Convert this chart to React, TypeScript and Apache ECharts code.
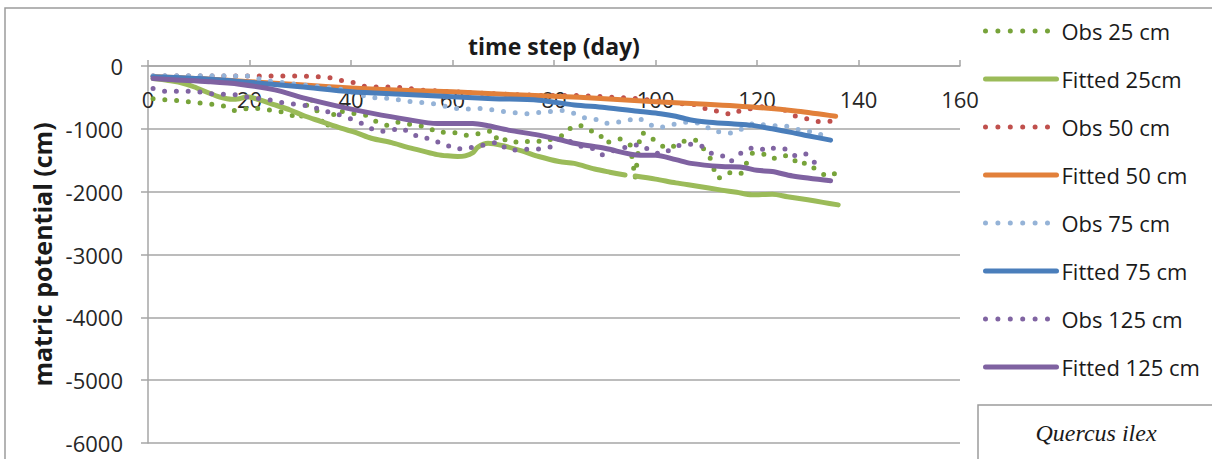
import React, { useEffect, useRef } from "react";
import * as echarts from "echarts";

// ---- data (day, matric potential in cm) ----
const xTicks = [0, 20, 40, 60, 80, 100, 120, 140, 160];

const obs25Days = [1,3,5,8,10,12,15,17,19,21,24,27,30,32,34,35,36,37,39,41,43,45,47,49,51,53,55,57,60,62,64,66,68,69,71,73,76,78,80,82,83,85,87,89,90,93,95,96,97,98,100,102,104,106,108,110,111,112,113,115,117,118,119,121,123,125,127,128,130,132,134,136];
const obs25Vals = [-520,-535,-545,-570,-585,-600,-640,-710,-680,-670,-700,-740,-840,-500,-830,-990,-880,-700,-740,-760,-785,-885,-945,-890,-920,-945,-970,-1060,-1050,-1105,-1095,-1060,-1025,-1210,-1155,-1225,-1185,-1210,-1145,-1100,-1000,-935,-1025,-1080,-1230,-1160,-1250,-1790,-1070,-1070,-1195,-1310,-1270,-1180,-1180,-1365,-1500,-1780,-1780,-1680,-1710,-1535,-1390,-1390,-1480,-1420,-1445,-1575,-1535,-1680,-1760,-1690];

const fit25Days = [1,4,6,9,12,14,16.5,18,19.5,22,25,28,31,34,38,41,44,48,51,54,57,59,61,62.5,64,65,67,70,74,77,81,84,88,91,94,95,96,100,104,108,113,116,119,123,126,130,133,136];
const fit25Vals = [-200,-230,-255,-330,-430,-490,-530,-520,-490,-540,-620,-700,-800,-880,-990,-1060,-1150,-1220,-1290,-1350,-1410,-1430,-1440,-1430,-1380,-1290,-1230,-1270,-1360,-1440,-1520,-1550,-1640,-1690,-1735,null,-1750,-1800,-1860,-1910,-1975,-2010,-2050,-2040,-2080,-2130,-2170,-2210];

const obs50Days = [1,5,10,15,20,25,30,32,34,36,38,40.5,42.5,45,49,51.5,54,60,70,78,84,90,95,100,103.5,108,110.5,113,115,117,121,125,127.5,130,132,134.5];
const obs50Vals = [-160,-160,-160,-160,-160,-160,-160,-165,-175,-190,-230,-265,-320,-335,-335,-360,-385,-410,-450,-470,-470,-490,-510,-550,-590,-615,-700,-730,-775,-700,-650,-680,-795,-845,-885,-880];

const fit50Days = [1,10,20,30,40,50,60,70,80,90,100,110,120,128,135.5];
const fit50Vals = [-170,-200,-250,-300,-350,-385,-410,-450,-480,-520,-570,-610,-660,-720,-800];

const obs75Days = [1,5,10,15,20,23,27,30,34,39,43.5,47.5,52,56,61.5,66,70.5,74.5,79,81.5,83.8,85.7,88,90,92.3,94.3,96.6,98.6,100.6,102.9,105.2,107.5,109.4,111.4,113.4,115.3,117.3,119.3,121.6,123.5,125.5,127.5,129.8,131.6,133.7];
const obs75Vals = [-155,-155,-155,-155,-160,-230,-270,-300,-330,-380,-500,-515,-570,-595,-690,-675,-730,-760,-725,-705,-750,-820,-840,-915,-895,-870,-820,-925,-985,-940,-895,-895,-930,-1040,-1055,-1070,-990,-910,-940,-950,-950,-1005,-1020,-1090,-1090];

const fit75Days = [1,10,20,30,40,50,60,68,77,84,90,97,101,104,107,110,115,119,123,127,130,134.5];
const fit75Vals = [-170,-200,-260,-330,-410,-450,-490,-520,-545,-620,-660,-725,-760,-800,-860,-890,-920,-945,-1000,-1060,-1110,-1180];

const obs125Days = [1,3,6,8,10,12.5,15,17.5,20,24,26.5,28.6,31,33.3,35.2,37.8,39.8,41.8,43.7,45.7,47.7,50.2,52,54.2,56,58.2,60,62.5,64.8,66.8,69,70.7,73,75,77.2,79.2,81.2,83.5,85.5,87.5,89.4,91,93,95.1,97,99,101,103,104.8,106.8,108.8,111,113,114.7,116.3,118.3,120.3,122,123.5,125.5,127.5,129.5,131.4,133.4];
const obs125Vals = [-360,-400,-400,-400,-410,-440,-450,-460,-500,-540,-585,-605,-630,-675,-725,-780,-835,-900,-990,-1045,-1020,-990,-1100,-1115,-1200,-1220,-1310,-1325,-1275,-1250,-1205,-1325,-1340,-1320,-1320,-1290,-1155,-1210,-1285,-1310,-1415,-1365,-1320,-1270,-1245,-1350,-1405,-1330,-1260,-1245,-1255,-1390,-1415,-1530,-1415,-1310,-1300,-1355,-1300,-1320,-1430,-1390,-1540,-1530];

const fit125Days = [1,5,12,18,25,31,38,44,51,57,64,67,71,77,81,84,90,97,100,104,107,113,117,120,123,127,134.5];
const fit125Vals = [-200,-220,-250,-290,-380,-515,-650,-750,-850,-915,-915,-950,-1020,-1100,-1170,-1230,-1310,-1420,-1420,-1490,-1550,-1600,-1610,-1660,-1680,-1750,-1825];

const seriesNames = ["Obs 25 cm", "Fitted 25cm", "Obs 50 cm", "Fitted 50 cm", "Obs 75 cm", "Fitted 75 cm", "Obs 125 cm", "Fitted 125 cm"];
const seriesColors = ["#77a33a", "#9bbb59", "#c0504d", "#e2803a", "#95b3d7", "#4a7ebb", "#8064a2", "#7f62a1"];

const FONT = "'Open Sans', 'Noto Sans', sans-serif";

function pair(days: number[], vals: (number | null)[]) {
  return days.map((d, i) => [d, vals[i] === null ? "-" : vals[i]]);
}

function obsSeries(idx: number, days: number[], vals: (number | null)[]) {
  const color = seriesColors[idx];
  return {
    name: seriesNames[idx],
    type: "line",
    data: pair(days, vals),
    symbol: "none",
    showSymbol: false,
    connectNulls: false,
    itemStyle: { color },
    lineStyle: { color, width: 5, type: [0, 11.8], cap: "round", join: "round" },
    z: 2 + idx,
  };
}

function fitSeries(idx: number, days: number[], vals: (number | null)[]) {
  const color = seriesColors[idx];
  return {
    name: seriesNames[idx],
    type: "line",
    data: pair(days, vals),
    symbol: "none",
    showSymbol: false,
    connectNulls: false,
    smooth: 0.3,
    itemStyle: { color },
    lineStyle: { color, width: 5, type: "solid", cap: "round", join: "round" },
    z: 2 + idx,
  };
}

export default function App() {
  const ref = useRef<HTMLDivElement>(null);

  useEffect(() => {
    if (!ref.current) return;
    const chart = echarts.init(ref.current, undefined, { renderer: "svg" });
    const gray = "#a6a6a6";
    const legendData = seriesNames.map((name, i) =>
      i % 2 === 0
        ? { name, lineStyle: { type: [0, 12.4], width: 5, cap: "round" } }
        : { name, lineStyle: { type: "solid", width: 5, cap: "round" } }
    );
    chart.setOption({
      animation: false,
      backgroundColor: "#ffffff",
      grid: { left: 148, right: 252, top: 66, bottom: 16, containLabel: false },
      xAxis: {
        type: "value",
        position: "top",
        min: xTicks[0],
        max: xTicks[xTicks.length - 1],
        interval: 20,
        name: "time step (day)",
        nameLocation: "middle",
        nameGap: 9,
        nameTextStyle: { fontFamily: FONT, fontSize: 23, fontWeight: "bold", color: "#1a1a1a" },
        axisLine: { show: true, onZero: false, lineStyle: { color: gray, width: 1.5 } },
        axisTick: { show: true, inside: false, length: 6, lineStyle: { color: gray, width: 1.5 } },
        axisLabel: { inside: true, margin: 22, fontFamily: FONT, fontSize: 22, color: "#262626" },
        splitLine: { show: false },
      },
      yAxis: {
        type: "value",
        min: -6000,
        max: 0,
        interval: 1000,
        name: "matric potential (cm)",
        nameLocation: "middle",
        nameGap: 93,
        nameRotate: 90,
        nameTextStyle: { fontFamily: FONT, fontSize: 25, fontWeight: "bold", color: "#1a1a1a" },
        axisLine: { show: true, lineStyle: { color: gray, width: 1.5 } },
        axisTick: { show: true, inside: false, length: 7, lineStyle: { color: gray, width: 1.5 } },
        axisLabel: {
          margin: 25,
          fontFamily: FONT,
          fontSize: 22,
          color: "#262626",
          formatter: (v: number) => String(v),
        },
        splitLine: { show: true, lineStyle: { color: gray, width: 1.5 } },
      },
      legend: {
        orient: "vertical",
        left: 978,
        top: 14,
        itemWidth: 71,
        itemHeight: 14,
        itemGap: 24,
        data: legendData,
        itemStyle: { opacity: 0 },
        lineStyle: { width: "inherit", type: "inherit", cap: "round" },
        textStyle: { fontFamily: FONT, fontSize: 22, color: "#1a1a1a", lineHeight: 24 },
        selectedMode: false,
      },
      graphic: [
        {
          type: "rect",
          silent: true,
          shape: { x: 5, y: 8, width: 1230, height: 480 },
          style: { fill: "none", stroke: "#9c9c9c", lineWidth: 1.5 },
          z: -10,
        },
        {
          type: "rect",
          silent: true,
          shape: { x: 978, y: 405, width: 260, height: 80 },
          style: { fill: "#ffffff", stroke: "#9c9c9c", lineWidth: 1.5 },
          z: 10,
        },
        {
          type: "text",
          silent: true,
          x: 1096,
          y: 433,
          style: {
            text: "Quercus ilex",
            fill: "#1a1a1a",
            font: "italic 24px 'Liberation Serif', 'DejaVu Serif', serif",
            textAlign: "center",
            textVerticalAlign: "middle",
          },
          z: 11,
        },
      ],
      series: [
        obsSeries(0, obs25Days, obs25Vals),
        fitSeries(1, fit25Days, fit25Vals),
        obsSeries(2, obs50Days, obs50Vals),
        fitSeries(3, fit50Days, fit50Vals),
        obsSeries(4, obs75Days, obs75Vals),
        fitSeries(5, fit75Days, fit75Vals),
        obsSeries(6, obs125Days, obs125Vals),
        fitSeries(7, fit125Days, fit125Vals),
      ],
    });
    return () => chart.dispose();
  }, []);

  return (
    <div
      ref={ref}
      style={{ position: "fixed", left: 0, top: 0, width: 1212, height: 459, background: "#fff" }}
    />
  );
}
